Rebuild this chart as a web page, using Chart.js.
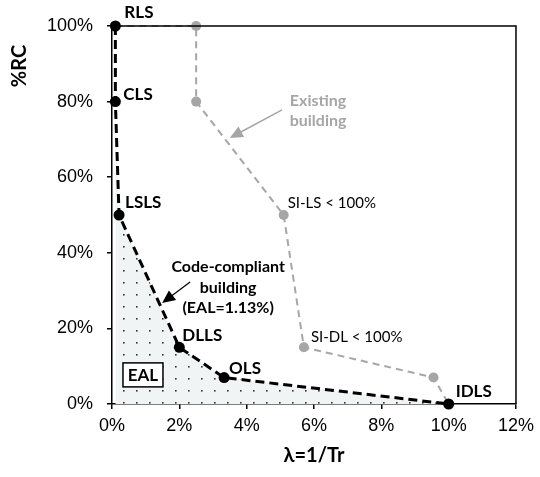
<!DOCTYPE html>
<html lang="en">
<head>
  <meta charset="UTF-8">
  <title>PAM curve</title>
  <script src="https://cdn.jsdelivr.net/npm/chart.js@4.4.0/dist/chart.umd.min.js"></script>
  <style>
    html, body { margin: 0; padding: 0; background: #fff; }
    #wrap { width: 540px; height: 477px; }
  </style>
</head>
<body>
  <div id="wrap"><canvas id="chart" width="540" height="477"></canvas></div>
  <script>
    // limit states of the code-compliant building
    const codeLabels = ['RLS', 'CLS', 'LSLS', 'DLLS', 'OLS', 'IDLS'];
    const codeLambda = [0.1, 0.1, 0.21, 2.0, 3.33, 10.0];   // %
    const codeRC = [100, 80, 50, 15, 7, 0];                 // %

    // existing building (starts from the RLS point)
    const existLabels = ['', '', '', 'SI-LS < 100%', 'SI-DL < 100%', '', ''];
    const existLambda = [0.1, 2.5, 2.5, 5.1, 5.7, 9.55, 10.0];
    const existRC = [100, 100, 80, 50, 15, 7, 0];

    const xTicks = [0, 2, 4, 6, 8, 10, 12];
    const yTicks = [0, 20, 40, 60, 80, 100];

    const labelFont = 'Lato, "Open Sans", sans-serif';

    // dotted fill for the EAL area
    function dotPattern() {
      const c = document.createElement('canvas');
      c.width = 13; c.height = 12;
      const g = c.getContext('2d');
      g.fillStyle = '#f1f4f4';
      g.fillRect(0, 0, 13, 12);
      g.fillStyle = '#333';
      g.fillRect(6, 6, 1.6, 1.6);
      return g.createPattern(c, 'repeat');
    }

    const ctx = document.getElementById('chart').getContext('2d');

    // point label offsets (px) relative to their point
    const codeOffsets = [[9, -13], [8, -7], [6, -12], [3, -12], [5, -9], [7, -12]];
    const existOffsets = [null, null, null, [4, -12], [7, -10], null, null];

    const annotations = {
      id: 'annotations',
      afterDraw(chart) {
        const c = chart.ctx;
        const xs = chart.scales.x, ys = chart.scales.y;
        const px = v => xs.getPixelForValue(v);
        const py = v => ys.getPixelForValue(v);
        const area = chart.chartArea;

        c.save();
        // frame
        c.strokeStyle = '#000';
        c.lineWidth = 1.5;
        c.beginPath();
        c.moveTo(area.left, area.top);
        c.lineTo(area.right, area.top);
        c.lineTo(area.right, area.bottom);
        c.stroke();

        // point labels of the code-compliant curve
        c.textBaseline = 'middle';
        c.textAlign = 'left';
        c.fillStyle = '#000';
        c.font = 'bold 17px ' + labelFont;
        codeLabels.forEach((t, i) => {
          const o = codeOffsets[i];
          c.fillText(t, px(codeLambda[i]) + o[0], py(codeRC[i]) + o[1]);
        });

        c.font = '15px ' + labelFont;
        existLabels.forEach((t, i) => {
          if (!t) return;
          const o = existOffsets[i];
          c.fillText(t, px(existLambda[i]) + o[0], py(existRC[i]) + o[1]);
        });

        // EAL box
        const bx = px(0.92), by = py(7.7);
        c.fillStyle = '#fff';
        c.fillRect(bx - 20, by - 12, 40, 24);
        c.lineWidth = 1.5;
        c.strokeStyle = '#000';
        c.strokeRect(bx - 20, by - 12, 40, 24);
        c.fillStyle = '#000';
        c.textAlign = 'center';
        c.font = 'bold 17px ' + labelFont;
        c.fillText('EAL', bx, by + 1);

        // code-compliant caption
        c.font = 'bold 16px ' + labelFont;
        const cx = px(3.45), cy = py(36.2);
        c.fillText('Code-compliant', cx, cy);
        c.fillText('building', cx, cy + 20.5);
        c.fillText('(EAL=1.13%)', cx, cy + 41);

        // existing building caption
        c.fillStyle = '#a6a6a6';
        const ex = px(6.12);
        c.fillText('Existing', ex, py(80.2));
        c.fillText('building', ex, py(74.9));

        function arrow(x0, y0, x1, y1, color, w) {
          const a = Math.atan2(y1 - y0, x1 - x0);
          const L = 13, H = 6;
          c.strokeStyle = color;
          c.fillStyle = color;
          c.lineWidth = w;
          c.beginPath();
          c.moveTo(x0, y0);
          c.lineTo(x1 - Math.cos(a) * L * 0.8, y1 - Math.sin(a) * L * 0.8);
          c.stroke();
          c.beginPath();
          c.moveTo(x1, y1);
          c.lineTo(x1 - Math.cos(a) * L - Math.sin(a) * H, y1 - Math.sin(a) * L + Math.cos(a) * H);
          c.lineTo(x1 - Math.cos(a) * L + Math.sin(a) * H, y1 - Math.sin(a) * L - Math.cos(a) * H);
          c.closePath();
          c.fill();
        }
        arrow(px(5.05), py(77.8), px(3.5), py(70.4), '#a6a6a6', 1.5);
        arrow(px(2.32), py(32.3), px(1.49), py(26.7), '#000', 1.2);

        // axis titles
        c.fillStyle = '#000';
        c.font = 'bold 20px ' + labelFont;
        c.textAlign = 'center';
        c.fillText('\u03bb=1/Tr', (area.left + area.right) / 2, 456);
        c.translate(20, 66);
        c.rotate(-Math.PI / 2);
        c.fillText('%RC', 0, 0);
        c.restore();
      }
    };

    new Chart(ctx, {
      type: 'scatter',
      data: {
        datasets: [
          {
            label: 'Code-compliant building',
            data: codeLambda.map((x, i) => ({ x: x, y: codeRC[i] })),
            showLine: true,
            borderColor: '#000',
            borderWidth: 3,
            borderDash: [9, 5],
            backgroundColor: dotPattern(),
            fill: 'origin',
            pointBackgroundColor: '#000',
            pointBorderColor: '#000',
            pointRadius: 5.5,
            pointBorderWidth: 0,
            clip: false,
            order: 0
          },
          {
            label: 'Existing building',
            data: existLambda.map((x, i) => ({ x: x, y: existRC[i] })),
            showLine: true,
            borderColor: '#a6a6a6',
            borderWidth: 2,
            borderDash: [7, 5],
            fill: false,
            pointBackgroundColor: '#a6a6a6',
            pointBorderColor: '#a6a6a6',
            pointRadius: existLambda.map((x, i) => i === 0 ? 0 : 5),
            pointBorderWidth: 0,
            clip: false,
            order: 1
          }
        ]
      },
      options: {
        responsive: false,
        animation: false,
        layout: { padding: { left: 0, right: 24, top: 26, bottom: 0 } },
        plugins: {
          legend: { display: false },
          tooltip: { enabled: false }
        },
        scales: {
          x: {
            type: 'linear',
            min: 0, max: 12,
            afterBuildTicks: s => { s.ticks = xTicks.map(v => ({ value: v })); },
            afterFit: s => { s.height = 73; },
            grid: { drawOnChartArea: false, drawTicks: true, tickLength: 5, color: '#000', lineWidth: 1.5 },
            border: { color: '#000', width: 1.5 },
            ticks: {
              padding: 6,
              color: '#000',
              font: { family: '"Liberation Sans", Arial, sans-serif', size: 18 },
              callback: v => v + '%'
            }
          },
          y: {
            type: 'linear',
            min: 0, max: 100,
            afterBuildTicks: s => { s.ticks = yTicks.map(v => ({ value: v })); },
            afterFit: s => { s.width = 112; },
            grid: { drawOnChartArea: false, drawTicks: true, tickLength: 5, color: '#000', lineWidth: 1.5 },
            border: { color: '#000', width: 1.5 },
            ticks: {
              padding: 14,
              color: '#000',
              font: { family: '"Liberation Sans", Arial, sans-serif', size: 18 },
              callback: v => v + '%'
            }
          }
        }
      },
      plugins: [annotations]
    });
  </script>
</body>
</html>
